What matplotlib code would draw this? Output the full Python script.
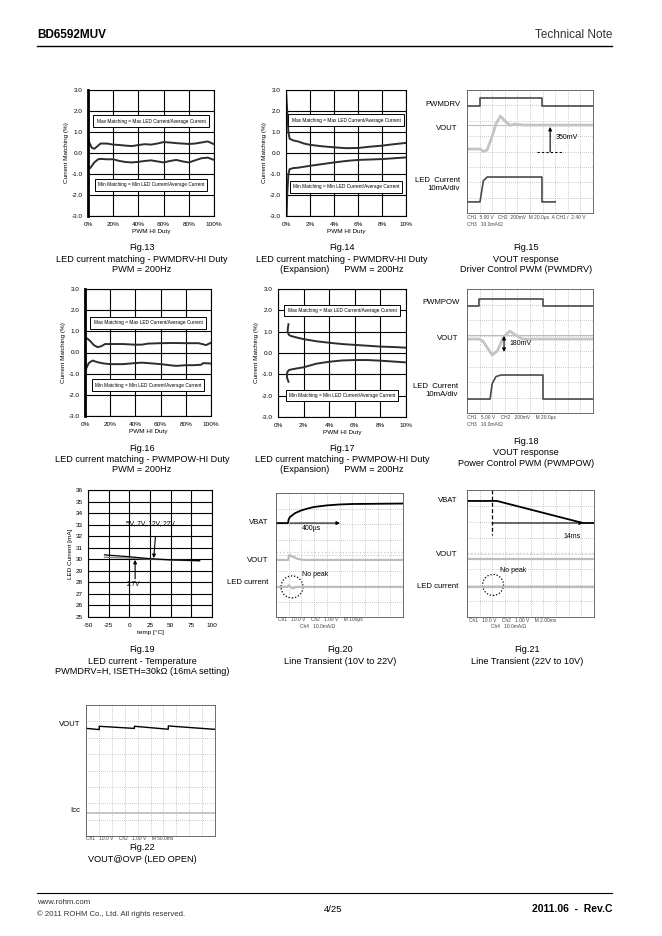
import matplotlib
matplotlib.use("Agg")
import matplotlib.pyplot as plt
from matplotlib.lines import Line2D
from matplotlib.patches import Ellipse

plt.rcParams["font.family"] = ["Liberation Sans", "DejaVu Sans"]
plt.rcParams["axes.unicode_minus"] = False

W, H = 662, 936

# ---------------- matching charts (Fig.13, 14, 16, 17) ----------------
MATCH_YTICKS = [-3, -2, -1, 0, 1, 2, 3]
MATCH_YLABELS = ["-3.0", "-2.0", "-1.0", "0.0", "1.0", "2.0", "3.0"]
DUTY_FULL_TICKS = [0, 20, 40, 60, 80, 100]
DUTY_FULL_LABELS = ["0%", "20%", "40%", "60%", "80%", "100%"]
DUTY_EXP_TICKS = [0, 2, 4, 6, 8, 10]
DUTY_EXP_LABELS = ["0%", "2%", "4%", "6%", "8%", "10%"]
MAX_NOTE = "Max Matching = Max LED Current/Average Current"
MIN_NOTE = "Min Matching = Min LED Current/Average Current"

fig13_max_x = [0, 1, 3, 5, 8, 10, 15, 20, 25, 30, 35, 40, 45, 50, 55, 60, 65, 70, 75, 80, 85, 90, 95, 100]
fig13_max_y = [0.75, 0.5, 0.25, 0.2, 0.35, 0.45, 0.45, 0.4, 0.38, 0.35, 0.33, 0.38, 0.42, 0.4, 0.45,
               0.52, 0.5, 0.47, 0.45, 0.43, 0.45, 0.5, 0.55, 0.42]
fig13_min_x = [0, 2, 5, 8, 10, 15, 20, 25, 30, 35, 40, 45, 50, 55, 60, 65, 70, 75, 80, 85, 90, 95, 100]
fig13_min_y = [-0.8, -0.7, -0.45, -0.3, -0.28, -0.3, -0.3, -0.38, -0.43, -0.45, -0.42, -0.38, -0.35,
               -0.4, -0.45, -0.38, -0.33, -0.4, -0.45, -0.35, -0.25, -0.22, -0.33]

fig14_max_x = [0.0, 0.1, 0.2, 0.3, 0.6, 1.0, 1.5, 2, 3, 4, 5, 6, 7, 8, 9, 10]
fig14_max_y = [3.0, 2.0, 1.0, 0.68, 0.6, 0.55, 0.45, 0.39, 0.32, 0.27, 0.23, 0.24, 0.3, 0.35, 0.42, 0.48]
fig14_min_x = [0.05, 0.1, 0.2, 0.3, 0.6, 1, 2, 3, 4, 5, 6, 7, 8, 9, 10]
fig14_min_y = [-3.0, -2.0, -1.0, -0.77, -0.72, -0.7, -0.61, -0.53, -0.45, -0.38, -0.33, -0.31, -0.29,
               -0.25, -0.21]

fig16_max_x = [0, 2, 4, 7, 10, 13, 16, 20, 30, 40, 45, 50, 60, 70, 80, 90, 93, 96, 100]
fig16_max_y = [0.72, 0.65, 0.55, 0.35, 0.25, 0.3, 0.4, 0.4, 0.4, 0.37, 0.37, 0.42, 0.44, 0.45, 0.44,
               0.44, 0.4, 0.35, 0.46]
fig16_min_x = [0, 1, 3, 6, 10, 15, 20, 30, 40, 45, 50, 60, 70, 73, 80, 86, 92, 94, 100]
fig16_min_y = [-0.9, -0.75, -0.5, -0.38, -0.46, -0.52, -0.55, -0.55, -0.5, -0.48, -0.5, -0.55, -0.62,
               -0.63, -0.6, -0.6, -0.58, -0.5, -0.52]

fig17_max_x = [0.82, 0.78, 0.75, 0.85, 1.0, 1.5, 2, 3, 4, 5, 6, 7, 8, 9, 10]
fig17_max_y = [1.35, 1.2, 1.0, 0.85, 0.8, 0.72, 0.65, 0.55, 0.48, 0.42, 0.38, 0.34, 0.3, 0.28, 0.25]
fig17_min_x = [0.82, 0.7, 0.72, 0.85, 1.05, 1.5, 2, 3, 4, 5, 6, 7, 8, 9, 10]
fig17_min_y = [-1.35, -1.15, -0.9, -0.8, -0.77, -0.72, -0.67, -0.5, -0.41, -0.35, -0.33, -0.33, -0.36,
               -0.4, -0.44]

# ---------------- LED current vs temperature (Fig.19) ----------------
TEMP_TICKS = [-50, -25, 0, 25, 50, 75, 100]
CURR_TICKS = list(range(25, 37))
temp_x = [-30, 0, 25, 50, 85]
curr_hi_v = [30.38, 30.22, 30.05, 29.95, 29.88]
curr_2v7 = [30.17, 30.1, 30.02, 29.93, 29.86]

# ---------------- scope traces, in divisions (10 x 8) ----------------
f15_pwm_x = [0, 1.03, 1.03, 5.95, 5.95, 10]
f15_pwm_y = [6.96, 6.96, 7.48, 7.48, 6.96, 6.96]
f15_vout_x = [0, 1.05, 1.3, 1.6, 2.0, 2.3, 2.65, 3.0, 3.4, 3.8, 4.5, 10]
f15_vout_y = [4.16, 4.16, 4.0, 4.1, 5.0, 5.8, 6.3, 6.0, 5.7, 5.78, 5.72, 5.72]
f15_vref = 5.72
f15_led_x = [0, 1.03, 1.3, 1.6, 5.95, 5.95, 7.0]
f15_led_y = [0.72, 0.72, 2.1, 2.34, 2.34, 0.72, 0.72]

f18_pwm_x = [0, 0.95, 0.95, 6.03, 6.03, 10]
f18_pwm_y = [6.9, 6.9, 7.35, 7.35, 6.9, 6.9]
f18_vout_x = [0, 1.0, 1.3, 1.7, 2.0, 2.4, 2.9, 3.4, 3.9, 4.4, 10]
f18_vout_y = [4.77, 4.77, 4.6, 4.1, 3.74, 4.0, 4.9, 5.29, 5.0, 4.77, 4.77]
f18_vref = 5.03
f18_led_x = [0, 1.83, 2.0, 2.3, 2.7, 6.03, 6.03, 10]
f18_led_y = [0.9, 0.9, 1.9, 2.35, 2.45, 2.45, 0.9, 0.9]

f20_vbat_x = [0, 0.94, 1.0, 1.1, 1.5, 2, 2.5, 3, 4, 5, 6, 10]
f20_vbat_y = [6.06, 6.06, 6.3, 6.45, 6.7, 6.88, 7.0, 7.1, 7.2, 7.26, 7.29, 7.32]
f20_vout_x = [0, 0.95, 1.05, 1.3, 1.7, 2.2, 10]
f20_vout_y = [3.68, 3.68, 4.0, 3.9, 3.75, 3.68, 3.68]
f20_led_x = [0, 0.9, 1.0, 1.3, 1.6, 10]
f20_led_y = [1.94, 1.94, 2.05, 1.85, 1.94, 1.94]

f21_vbat_x = [0, 2.36, 9.13, 10]
f21_vbat_y = [7.31, 7.31, 5.92, 5.92]
f21_vout = 3.65
f21_led = 1.89

f22_vout_x = [0.05, 1.03, 1.03, 3.75, 3.75, 6.38, 6.38, 9.87, 10]
f22_vout_y = [6.57, 6.5, 6.7, 6.57, 6.7, 6.52, 6.72, 6.52, 6.52]
f22_icc = 1.4


def rect(x0, y0, x1, y1):
    return [x0 / W, 1 - y1 / H, (x1 - x0) / W, (y1 - y0) / H]


def ftext(fig, x, y, s, **kw):
    kw.setdefault("va", "center")
    fig.text(x / W, 1 - y / H, s, **kw)


def matching_chart(fig, r, xmax, ticks, labels, mx, my, nx, ny, box_hi, box_lo, thick_left=False):
    ax = fig.add_axes(r)
    ax.set_xlim(0, xmax)
    ax.set_ylim(-3, 3)
    ax.set_xticks(ticks)
    ax.set_xticklabels(labels)
    ax.set_yticks(MATCH_YTICKS)
    ax.set_yticklabels(MATCH_YLABELS)
    ax.grid(True, color="black", lw=0.8)
    ax.tick_params(length=0, labelsize=4.6, pad=4)
    for s in ax.spines.values():
        s.set_linewidth(0.8)
    if thick_left:
        ax.spines["left"].set_linewidth(2.0)
    ax.plot(mx, my, color="#2e2e2e", lw=1.4)
    ax.plot(nx, ny, color="#2e2e2e", lw=1.4)
    box = dict(boxstyle="square,pad=0.7", fc="white", ec="black", lw=0.7)
    ax.text(xmax / 2, box_hi, MAX_NOTE, ha="center", va="center", fontsize=3.4, bbox=box)
    ax.text(xmax / 2, box_lo, MIN_NOTE, ha="center", va="center", fontsize=3.4, bbox=box)
    ax.set_ylabel("Current Matching (%)", fontsize=4.6, labelpad=2)
    ax.set_xlabel("PWM HI Duty", fontsize=4.6, labelpad=2)
    return ax


def scope(fig, r):
    ax = fig.add_axes(r)
    ax.set_xlim(0, 10)
    ax.set_ylim(0, 8)
    ax.set_xticks(range(11))
    ax.set_yticks(range(9))
    ax.grid(True, color="#9a9a9a", lw=0.5, ls=(0, (1, 2)))
    ax.tick_params(length=0, labelbottom=False, labelleft=False)
    for s in ax.spines.values():
        s.set_linewidth(0.6)
        s.set_color("#555555")
    return ax


def arrow(ax, xy, xytext, style="-|>"):
    ax.annotate("", xy=xy, xytext=xytext,
                arrowprops=dict(arrowstyle=style, color="black", lw=0.8,
                                mutation_scale=5, shrinkA=0, shrinkB=0))


def main():
    fig = plt.figure(figsize=(W / 100, H / 100), dpi=100)

    # header / footer
    ftext(fig, 37, 35, "BD6592MUV", fontsize=8.5, fontweight="bold")
    ftext(fig, 612, 35, "Technical Note", fontsize=8.5, ha="right", color="#333333")
    fig.add_artist(Line2D([37 / W, 612 / W], [1 - 46 / H] * 2, color="black", lw=1.0))
    fig.add_artist(Line2D([37 / W, 612 / W], [1 - 893 / H] * 2, color="black", lw=0.8))
    ftext(fig, 37, 902, "www.rohm.com", fontsize=5.6, color="#333333")
    ftext(fig, 37, 914, "© 2011 ROHM Co., Ltd. All rights reserved.", fontsize=5.6, color="#333333")
    ftext(fig, 333, 910, "4/25", fontsize=6.8, ha="center")
    ftext(fig, 612, 909, "2011.06  -  Rev.C", fontsize=7.5, ha="right", fontweight="bold")

    # matching charts
    matching_chart(fig, rect(88, 90, 214, 216), 100, DUTY_FULL_TICKS, DUTY_FULL_LABELS,
                   fig13_max_x, fig13_max_y, fig13_min_x, fig13_min_y, 1.52, -1.52, thick_left=True)
    matching_chart(fig, rect(286, 90, 406, 216), 10, DUTY_EXP_TICKS, DUTY_EXP_LABELS,
                   fig14_max_x, fig14_max_y, fig14_min_x, fig14_min_y, 1.56, -1.61)
    matching_chart(fig, rect(85, 289, 211, 416), 100, DUTY_FULL_TICKS, DUTY_FULL_LABELS,
                   fig16_max_x, fig16_max_y, fig16_min_x, fig16_min_y, 1.4, -1.54, thick_left=True)
    matching_chart(fig, rect(278, 289, 406, 417), 10, DUTY_EXP_TICKS, DUTY_EXP_LABELS,
                   fig17_max_x, fig17_max_y, fig17_min_x, fig17_min_y, 2.0, -1.99)

    # Fig.19 temperature
    ax = fig.add_axes(rect(88, 490, 212, 617))
    ax.set_xlim(-50, 100)
    ax.set_ylim(25, 36)
    ax.set_xticks(TEMP_TICKS)
    ax.set_yticks(CURR_TICKS)
    ax.grid(True, color="black", lw=0.8)
    ax.tick_params(length=0, labelsize=4.6, pad=4)
    ax.plot(temp_x, curr_2v7, color="#8a8a8a", lw=1.0)
    ax.plot(temp_x, curr_hi_v, color="black", lw=0.9)
    ax.text(25, 33.1, "5V, 7V, 12V, 22V", ha="center", va="center", fontsize=4.8)
    arrow(ax, (29.5, 30.1), (31.5, 31.9))
    ax.text(5, 27.85, "2.7V", ha="center", va="center", fontsize=4.8)
    arrow(ax, (7, 29.95), (7, 28.3))
    ax.set_ylabel("LED Current [mA]", fontsize=4.6, labelpad=2)
    ax.set_xlabel("temp [°C]", fontsize=4.6, labelpad=2)

    dig = dict(color="#4a4a4a", lw=1.2)
    ana = dict(color="#c4c4c4", lw=2.0)
    readout = dict(fontsize=3.5, color="#444444")

    # Fig.15
    ax = scope(fig, rect(467, 90, 593, 213))
    ax.axhline(f15_vref, color="#bdbdbd", lw=0.8)
    ax.plot(f15_vout_x, f15_vout_y, **ana)
    ax.plot(f15_pwm_x, f15_pwm_y, **dig)
    ax.plot(f15_led_x, f15_led_y, **dig)
    arrow(ax, (6.6, 5.6), (6.6, 3.97))
    ax.plot([5.55, 7.6], [3.97, 3.97], color="black", lw=0.8, ls=(0, (2, 2)))
    ax.text(7.0, 4.9, "350mV", fontsize=5, va="center")
    ftext(fig, 460, 104, "PWMDRV", fontsize=5.6, ha="right")
    ftext(fig, 457, 129, "VOUT", fontsize=5.6, ha="right")
    ftext(fig, 460, 180, "LED  Current", fontsize=5.6, ha="right")
    ftext(fig, 460, 188, "10mA/div", fontsize=5.6, ha="right")
    ftext(fig, 467, 218, "CH1  5.00 V   CH2  200mV  M 20.0μs  A CH1 /  2.40 V", **readout)
    ftext(fig, 467, 225, "CH3   10.0mA/Ω", **readout)

    # Fig.18
    ax = scope(fig, rect(467, 289, 593, 413))
    ax.axhline(f18_vref, color="#bdbdbd", lw=0.8)
    ax.plot(f18_vout_x, f18_vout_y, **ana)
    ax.plot(f18_pwm_x, f18_pwm_y, **dig)
    ax.plot(f18_led_x, f18_led_y, **dig)
    arrow(ax, (2.94, 4.97), (2.94, 3.94), style="<|-|>")
    ax.text(3.4, 4.5, "180mV", fontsize=5, va="center")
    ftext(fig, 460, 302, "PWMPOW", fontsize=5.6, ha="right")
    ftext(fig, 458, 339, "VOUT", fontsize=5.6, ha="right")
    ftext(fig, 458, 387, "LED  Current", fontsize=5.6, ha="right")
    ftext(fig, 458, 394, "10mA/div", fontsize=5.6, ha="right")
    ftext(fig, 467, 418, "CH1   5.00 V    CH2   200mV    M 20.0μs", **readout)
    ftext(fig, 467, 425, "CH3   10.0mA/Ω", **readout)

    gray = dict(color="#bcbcbc", lw=1.6)

    # Fig.20
    ax = scope(fig, rect(276, 493, 403, 617))
    ax.axhline(4.19, color="#cfcfcf", lw=1.0, ls=(0, (1, 1.5)))
    ax.plot(f20_vout_x, f20_vout_y, **gray)
    ax.plot(f20_led_x, f20_led_y, **gray)
    ax.plot(f20_vbat_x, f20_vbat_y, color="black", lw=1.3)
    arrow(ax, (5.04, 6.06), (1.1, 6.06))
    ax.text(2.05, 5.74, "400μs", fontsize=5, va="center")
    ax.add_patch(Ellipse((1.26, 1.94), 1.73, 1.42, fill=False, ec="black", lw=0.9, ls=(0, (1, 1.5))))
    ax.text(2.05, 2.77, "No peak", fontsize=5, va="center")
    ftext(fig, 268, 523, "VBAT", fontsize=5.6, ha="right")
    ftext(fig, 268, 560, "VOUT", fontsize=5.6, ha="right")
    ftext(fig, 268, 583, "LED current", fontsize=5.6, ha="right")
    ftext(fig, 278, 620, "Ch1   10.0 V    Ch2   1.00 V    M 100μs", **readout)
    ftext(fig, 300, 626, "Ch4   10.0mA/Ω", **readout)

    # Fig.21
    ax = scope(fig, rect(467, 490, 594, 617))
    ax.axhline(4.03, color="#cfcfcf", lw=1.0, ls=(0, (1, 1.5)))
    ax.axhline(f21_vout, **gray)
    ax.axhline(f21_led, **gray)
    ax.plot(f21_vbat_x, f21_vbat_y, color="black", lw=1.3)
    ax.plot([1.97, 1.97], [8, 5.17], color="black", lw=0.9, ls=(0, (3, 2)))
    arrow(ax, (9.13, 5.92), (1.97, 5.92))
    ax.text(7.56, 5.04, "14ms", fontsize=5, va="center")
    ax.add_patch(Ellipse((2.05, 2.02), 1.65, 1.32, fill=False, ec="black", lw=0.9, ls=(0, (1, 1.5))))
    ax.text(2.6, 2.96, "No peak", fontsize=5, va="center")
    ftext(fig, 457, 501, "VBAT", fontsize=5.6, ha="right")
    ftext(fig, 457, 555, "VOUT", fontsize=5.6, ha="right")
    ftext(fig, 458, 586, "LED current", fontsize=5.6, ha="right")
    ftext(fig, 469, 620, "Ch1   10.0 V    Ch2   1.00 V    M 2.00ms", **readout)
    ftext(fig, 491, 626, "Ch4   10.0mA/Ω", **readout)

    # Fig.22
    ax = scope(fig, rect(86, 705, 215, 836))
    ax.axhline(f22_icc, color="#bcbcbc", lw=1.2)
    ax.plot(f22_vout_x, f22_vout_y, color="black", lw=1.0)
    ftext(fig, 80, 725, "VOUT", fontsize=5.6, ha="right")
    ftext(fig, 80, 810, "Icc", fontsize=5.6, ha="right")
    ftext(fig, 86, 839, "Ch1   10.0 V    Ch2   1.00 V    M 50.0ms", **readout)

    # captions
    captions = [
        (142, 248, ["Fig.13", "LED current matching - PWMDRV-HI Duty", "PWM = 200Hz"]),
        (342, 248, ["Fig.14", "LED current matching - PWMDRV-HI Duty", "(Expansion)      PWM = 200Hz"]),
        (526, 248, ["Fig.15", "VOUT response", "Driver Control PWM (PWMDRV)"]),
        (142, 448, ["Fig.16", "LED current matching - PWMPOW-HI Duty", "PWM = 200Hz"]),
        (342, 448, ["Fig.17", "LED current matching - PWMPOW-HI Duty", "(Expansion)      PWM = 200Hz"]),
        (526, 441, ["Fig.18", "VOUT response", "Power Control PWM (PWMPOW)"]),
        (142, 650, ["Fig.19", "LED current - Temperature", "PWMDRV=H, ISETH=30kΩ (16mA setting)"]),
        (340, 650, ["Fig.20", "Line Transient (10V to 22V)"]),
        (527, 650, ["Fig.21", "Line Transient (22V to 10V)"]),
        (142, 848, ["Fig.22", "VOUT@OVP (LED OPEN)"]),
    ]
    for cx, cy, lines in captions:
        for i, s in enumerate(lines):
            ftext(fig, cx, cy + 11 * i, s, fontsize=6.6, ha="center")

    fig.savefig("out.png", dpi=100)


if __name__ == "__main__":
    main()
